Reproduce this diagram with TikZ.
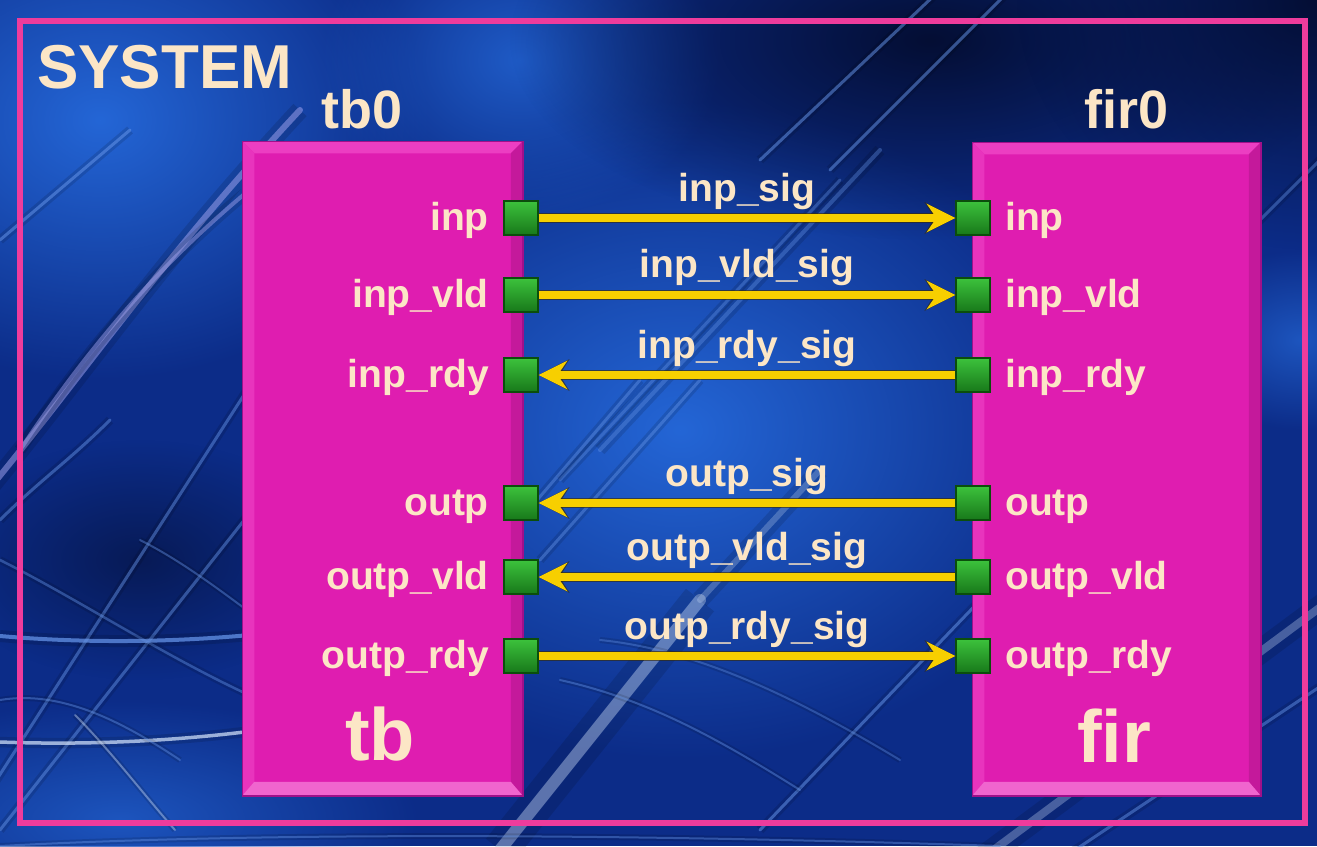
\documentclass[tikz,border=0pt]{standalone}
\usepackage{fontspec}
\setmainfont{Liberation Sans}
\usetikzlibrary{arrows.meta,calc,fadings}
\tikzfading[name=glowfade, inner color=transparent!0, outer color=transparent!100]
\definecolor{cream}{HTML}{FCE6C6}
\definecolor{mag}{HTML}{DF1DB0}
\definecolor{magl}{HTML}{EC3EC2}
\definecolor{magd}{HTML}{A0108A}
\definecolor{framec}{HTML}{EE3C9C}
\definecolor{sigy}{HTML}{F7CF00}
\definecolor{sigd}{HTML}{3A2A00}
\definecolor{portg}{HTML}{1E9620}
\definecolor{portl}{HTML}{3CC23C}
\definecolor{portd}{HTML}{0B4E0C}
\definecolor{bgmid}{HTML}{0C2C88}
\definecolor{bglight}{HTML}{2466D6}
\definecolor{bgdark}{HTML}{040E34}
\definecolor{streakl}{HTML}{A8A8F4}
\definecolor{streakb}{HTML}{6A9AF0}
\definecolor{streakw}{HTML}{D8E8FF}
\begin{document}
\begin{tikzpicture}[x=1pt,y=-1pt,
  block/.style={draw=magd, line width=1.5pt, fill=mag, inner sep=0pt},
  port/.style={draw=portd, line width=1.2pt, top color=portl, bottom color=portg!80!black, minimum size=34pt, inner sep=0pt},
  plabel/.style={text=cream, font=\bfseries\fontsize{39}{40}\selectfont, inner sep=0pt},
  title/.style={text=cream, font=\bfseries\fontsize{#1}{#1}\selectfont, inner sep=0pt},
  sigarrow/.style={line width=8pt, draw=sigy, -{Stealth[length=29pt,width=29pt,inset=10pt,line width=0pt]},
     preaction={draw=sigd, line width=10.5pt, opacity=0.6, -{Stealth[length=31pt,width=32pt,inset=10pt,line width=0pt]}}},
  streak/.style={line width=#1, line cap=round, preaction={draw, line width=3*#1, opacity=0.12}},
  streak/.default=3pt,
  glow/.style={path fading=glowfade}]
\useasboundingbox (0,0) rectangle (1317,846);
% ---------- background ----------
\begin{scope}
\clip (0,0) rectangle (1317,846);
\fill[bgmid] (0,0) rectangle (1317,846);
\fill[bglight, glow] (680,430) ellipse (420 and 330);
\fill[bglight, glow] (100,120) ellipse (330 and 260);
\fill[bglight!80!bgmid, glow] (520,60) ellipse (200 and 160);
\fill[bgdark, glow] (930,40) ellipse (420 and 200);
\fill[bgdark, glow] (1317,0) ellipse (300 and 250);
\fill[bglight!70!bgmid, glow] (1300,340) ellipse (120 and 90);
\fill[bglight!70!bgmid, glow] (120,820) ellipse (300 and 120);
\fill[bgdark!60!bgmid, glow] (140,560) ellipse (200 and 120);
% left streaks
\draw[streak=6pt, streakl, opacity=0.5] (-20,500) .. controls (80,380) and (160,260) .. (300,110);
\draw[streak=4pt, streakl, opacity=0.45] (20,450) .. controls (100,330) and (180,240) .. (300,150);
\draw[streak=3pt, streakb, opacity=0.5] (0,240) -- (130,130);
\draw[streak=3pt, streakb, opacity=0.45] (-10,790) -- (260,370);
\draw[streak=3pt, streakb, opacity=0.45] (0,830) -- (260,500);
\draw[streak=2.5pt, streakb, opacity=0.4] (0,560) .. controls (80,600) and (170,660) .. (260,700);
\draw[streak=4pt, streakb, opacity=0.7] (0,636) .. controls (80,643) and (170,643) .. (260,634);
\draw[streak=3.5pt, streakw, opacity=0.7] (0,742) .. controls (80,745) and (170,742) .. (260,730);
\draw[streak=2pt, streakw, opacity=0.4] (75,715) .. controls (110,750) and (140,790) .. (175,830);
\draw[streak=2pt, streakb, opacity=0.4] (140,540) .. controls (180,560) and (220,590) .. (260,620);
\draw[streak=2pt, streakb, opacity=0.4] (0,700) .. controls (60,690) and (120,720) .. (180,760);
\draw[streak=3pt, streakb, opacity=0.45] (0,520) .. controls (40,480) and (70,460) .. (110,420);
% centre streaks
\draw[streak=3pt, streakb, opacity=0.5] (940,-10) -- (760,160);
\draw[streak=3pt, streakb, opacity=0.5] (1010,-10) -- (830,170);
\draw[streak=4pt, streakb, opacity=0.35] (880,150) -- (600,450);
\draw[streak=3pt, streakb, opacity=0.35] (840,180) -- (560,480);
\draw[streak=3pt, streakb, opacity=0.4] (640,380) -- (520,520);
\draw[streak=3pt, streakb, opacity=0.4] (700,380) -- (540,560);
\draw[streak=12pt, streakw, opacity=0.4] (500,850) -- (700,600);
\draw[streak=6pt, streakw, opacity=0.25] (700,600) -- (820,470);
\draw[streak=3pt, streakb, opacity=0.5] (760,830) -- (990,590);
\draw[streak=2pt, streakb, opacity=0.4] (560,680) .. controls (650,700) and (720,740) .. (800,790);
\draw[streak=2pt, streakb, opacity=0.35] (600,640) .. controls (700,650) and (800,700) .. (900,760);
% right / bottom streaks
\draw[streak=8pt, streakw, opacity=0.3] (980,860) -- (1330,600);
\draw[streak=3pt, streakb, opacity=0.45] (1060,860) -- (1330,680);
\draw[streak=3pt, streakb, opacity=0.4] (1250,230) -- (1330,150);
\draw[streak=2pt, streakb, opacity=0.4] (0,846) .. controls (300,830) and (700,836) .. (1000,846);
\end{scope}
% ---------- system frame ----------
\node[draw=framec, line width=6pt, minimum width=1285pt, minimum height=802pt, inner sep=0pt, anchor=north west] (system) at (17,18) {};
\node[title=62, anchor=base west] (systxt) at (37,88) {SYSTEM};
% ---------- blocks ----------
\node[block, minimum width=279pt, minimum height=653pt] (tb) at (382.5,468.5) {};
\node[block, minimum width=287pt, minimum height=652pt] (fir) at (1116.5,469) {};
\foreach \b in {tb,fir}{
  \fill[magl] (\b.north west) -- (\b.north east) -- ($(\b.north east)+(-12,12)$) -- ($(\b.north west)+(12,12)$) -- cycle;
  \fill[magl!70!mag] (\b.north west) -- ($(\b.north west)+(12,12)$) -- ($(\b.south west)+(12,-14)$) -- (\b.south west) -- cycle;
  \fill[mag!88!black] (\b.north east) -- ($(\b.north east)+(-12,12)$) -- ($(\b.south east)+(-12,-14)$) -- (\b.south east) -- cycle;
  \fill[magl!80!white] (\b.south west) -- (\b.south east) -- ($(\b.south east)+(-12,-14)$) -- ($(\b.south west)+(12,-14)$) -- cycle;
  \draw[magd, line width=1.5pt] (\b.north west) rectangle (\b.south east);
}
\node[title=54, anchor=base] (tbname) at (362,128) {tb0};
\node[title=54, anchor=base] (firname) at (1127,128) {fir0};
\node[title=74, anchor=base] (tbtype) at (380,760) {tb};
\node[title=74, anchor=base] (firtype) at (1114,762) {fir};
% ---------- ports ----------
\foreach \i/\t/\y in {1/inp/218,2/inp\_vld/295,3/inp\_rdy/375,4/outp/503,5/outp\_vld/577,6/outp\_rdy/656}{
  \node[port] (t\i) at (521,\y) {};
  \node[port] (f\i) at (973,\y) {};
  \node[plabel, anchor=base east] (tl\i) at (489,\y+12) {\t};
  \node[plabel, anchor=base west] (fl\i) at (1005,\y+12) {\t};
}
% ---------- signals ----------
\draw[sigarrow] (t1.east) -- node[plabel, midway, anchor=base, yshift=17pt] (s1) {inp\_sig} (f1.west);
\draw[sigarrow] (t2.east) -- node[plabel, midway, anchor=base, yshift=18pt] (s2) {inp\_vld\_sig} (f2.west);
\draw[sigarrow] (f3.west) -- node[plabel, midway, anchor=base, yshift=17pt] (s3) {inp\_rdy\_sig} (t3.east);
\draw[sigarrow] (f4.west) -- node[plabel, midway, anchor=base, yshift=17pt] (s4) {outp\_sig} (t4.east);
\draw[sigarrow] (f5.west) -- node[plabel, midway, anchor=base, yshift=17pt] (s5) {outp\_vld\_sig} (t5.east);
\draw[sigarrow] (t6.east) -- node[plabel, midway, anchor=base, yshift=17pt] (s6) {outp\_rdy\_sig} (f6.west);
\end{tikzpicture}
\end{document}
